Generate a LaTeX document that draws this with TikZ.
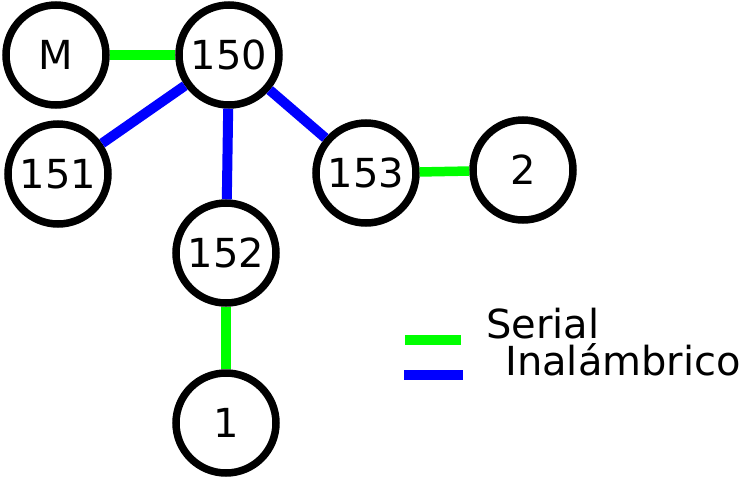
\documentclass[tikz,border=0pt]{standalone}
\usepackage{fontspec}
\setmainfont{DejaVu Sans}
\usepackage{tikz}
\definecolor{verde}{HTML}{00FF00}
\definecolor{azul}{HTML}{0000FF}
\tikzset{
  every picture/.style={font=\fontsize{40}{46}\selectfont},
  nodo/.style={draw=black, fill=white, circle, line width=7.5pt, minimum size=100pt, inner sep=0pt},
  serie/.style={draw=verde, line width=9.5pt},
  inal/.style={draw=azul, line width=10pt},
  leyenda/.style={anchor=base west, inner sep=0pt},
}
\begin{document}
\begin{tikzpicture}[x=1pt, y=-1pt]
  \useasboundingbox (0,0) rectangle (740,480);
  \node[nodo] (m) at (56,55) {M};
  \node[nodo] (n150) at (229,55) {150};
  \node[nodo] (n151) at (58,174) {151};
  \node[nodo] (n153) at (366,173) {153};
  \node[nodo] (n2) at (523,170) {2};
  \node[nodo] (n152) at (226,253) {152};
  \node[nodo] (n1) at (226,423) {1};
  \draw[serie] (m) -- (n150); \draw[serie] (n153) -- (n2); \draw[serie] (n152) -- (n1);
  \draw[inal] (n150) -- (n151); \draw[inal] (n150) -- (n152); \draw[inal] (n150) -- (n153);
  % leyenda
  \coordinate (sa) at (405,340); \coordinate (sb) at (461,340);
  \coordinate (ia) at (404,375); \coordinate (ib) at (463,375);
  \draw[serie] (sa) -- (sb);
  \draw[inal] (ia) -- (ib);
  \node[leyenda] (tserie) at (486,338) {Serial};
  \node[leyenda] (tinal) at (505,375) {Inalámbrico};
\end{tikzpicture}
\end{document}
